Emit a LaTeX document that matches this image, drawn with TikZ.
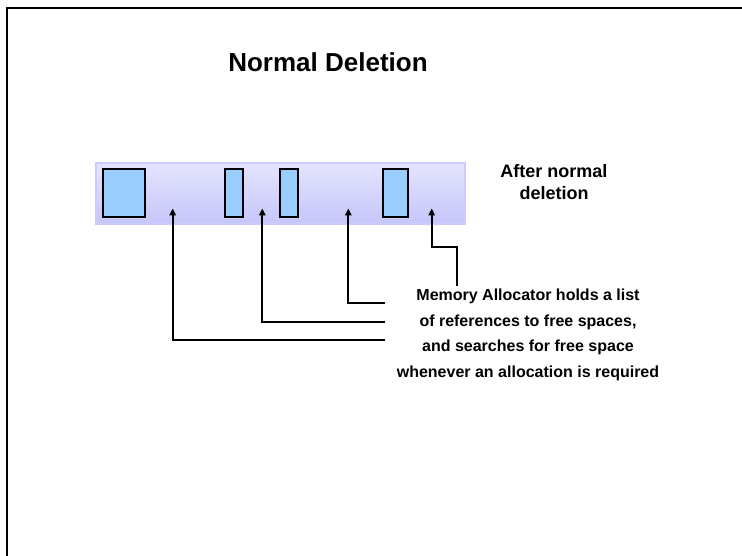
\documentclass[tikz,border=0pt]{standalone}
\usepackage{fontspec}
\setmainfont{Liberation Sans}
\usetikzlibrary{arrows.meta,positioning}
\definecolor{bandtop}{RGB}{228,228,255}
\definecolor{bandbottom}{RGB}{198,198,250}
\definecolor{bandline}{RGB}{204,204,255}
\definecolor{blockfill}{RGB}{153,204,255}
\tikzset{
    band/.style={draw=bandline,line width=1.5pt,top color=bandtop,bottom color=bandbottom,minimum width=369pt,minimum height=61pt,inner sep=0pt},
    block/.style={draw,line width=2pt,fill=blockfill,minimum height=48pt,inner sep=0pt},
    pre/.style={->,line width=2pt,>={Triangle[length=7pt,width=6.5pt]}},
    caption/.style={font=\fontsize{18}{22}\selectfont\bfseries,align=center,inner sep=0pt}
}

\begin{document}
\begin{tikzpicture}
                [x=1pt,y=-1pt]

                \useasboundingbox (0,0) rectangle (742,556);
                \draw[line width=1.2pt] (742,8) -- (7,8) -- (7,556);

                \node[font=\fontsize{26}{30}\selectfont\bfseries] (title) at (328,62) {Normal Deletion};

                \node[band] (memory) at (280.5,193.5) {};

                \node[block,minimum width=42pt] (b1) at (123.7,193.3) {};
                \node[block,minimum width=18pt] (b2) at (234.2,193.3) {};
                \node[block,minimum width=18pt] (b3) at (289.3,193.3) {};
                \node[block,minimum width=25pt] (b4) at (395.8,193.3) {};

                \node[caption] (after) at (554,182) {After normal\\deletion};

                \node[caption,font=\fontsize{16}{25.5}\selectfont\bfseries] (note) at (528,335)
                    {Memory Allocator holds a list\\of references to free spaces,\\and searches for free space\\whenever an allocation is required};

                % free spaces left between the blocks
                \coordinate (gap1) at (172.7,208.5);
                \coordinate (gap2) at (262.3,208.5);
                \coordinate (gap3) at (348.3,208.5);
                \coordinate (gap4) at (431.7,208.5);

                \coordinate (tail1) at (385,340);
                \coordinate (tail2) at (385,321.7);
                \coordinate (tail3) at (385,303.3);
                \coordinate (tail4) at (456.7,286);
                \coordinate (bend4) at (456.7,246.7);

                \draw[pre] (tail1) -| (gap1);
                \draw[pre] (tail2) -| (gap2);
                \draw[pre] (tail3) -| (gap3);
                \draw[pre] (tail4) -- (bend4) -| (gap4);

            \end{tikzpicture}
\end{document}
